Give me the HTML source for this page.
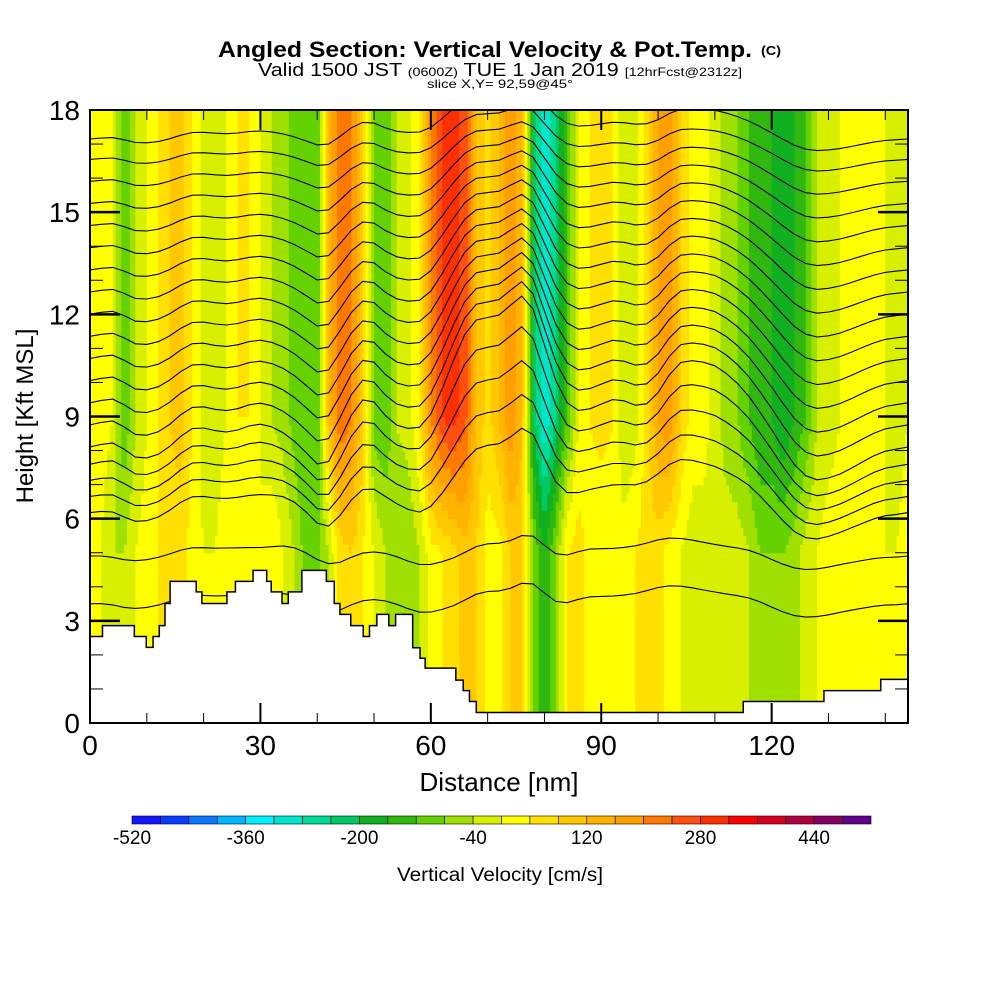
<!DOCTYPE html>
<html><head><meta charset="utf-8"><style>
html,body{margin:0;padding:0;background:#fff;}
svg{display:block;font-family:"Liberation Sans",sans-serif;}
</style></head><body>
<svg id="chart" width="1000" height="1000" viewBox="0 0 1000 1000" xmlns="http://www.w3.org/2000/svg">
<g>
<text x="218" y="57" font-size="22" font-weight="bold" textLength="534" lengthAdjust="spacingAndGlyphs">Angled Section: Vertical Velocity &amp; Pot.Temp.</text>
<text x="761" y="55" font-size="13" font-weight="bold" textLength="20" lengthAdjust="spacingAndGlyphs">(C)</text>
<text x="258" y="76" font-size="18" textLength="484" lengthAdjust="spacingAndGlyphs">Valid 1500 JST <tspan font-size="12">(0600Z)</tspan> TUE 1 Jan 2019 <tspan font-size="12">[12hrFcst@2312z]</tspan></text>
<text x="427" y="88" font-size="12" textLength="146" lengthAdjust="spacingAndGlyphs">slice X,Y= 92,59@45°</text>
</g>
<defs><clipPath id="plotclip"><rect x="90" y="110" width="818" height="613"/></clipPath></defs>
<g id="field" clip-path="url(#plotclip)"></g>
<g id="isen" clip-path="url(#plotclip)"></g>
<g id="terr" clip-path="url(#plotclip)"></g>
<g id="axes"></g>
<text x="499" y="791" font-size="26" text-anchor="middle">Distance [nm]</text>
<text transform="translate(33,416) rotate(-90)" font-size="24" text-anchor="middle">Height [Kft MSL]</text>
<g id="cbar"></g>
<text x="500" y="881" font-size="19" text-anchor="middle" textLength="206" lengthAdjust="spacingAndGlyphs">Vertical Velocity [cm/s]</text>
</svg>
<script>
// data: vertical velocity (cm/s), one value per 2 nm from 0 to 144 nm
const upperW = [20,20,0,-120,-40,0,40,80,100,40,-20,-20,0,40,40,0,-40,-60,-100,-120,-120,120,240,200,100,-100,-120,-40,-20,40,200,280,300,260,120,60,120,200,120,-200,-320,-240,-120,0,40,60,40,-40,-20,60,160,200,80,20,20,-20,-60,-80,-120,-160,-160,-200,-160,-120,-40,-20,0,20,20,20,0,-20,0];
const lowerW = [0,0,-40,-40,0,20,40,60,60,20,0,0,20,0,20,0,40,0,-40,-100,-100,-40,60,80,40,0,-40,-60,-80,-40,20,40,60,100,80,20,20,80,100,-80,-160,-80,40,60,20,0,20,20,40,60,60,20,0,-20,-20,-20,-20,-20,-40,-80,-80,-80,-60,-20,0,20,20,20,20,20,0,0,20];
// terrain steps: start distance (nm) and height (kft)
const terrNm = [0,2.2,7.8,9.9,11.1,12.2,13.2,14.1,18.7,19.7,24.1,25.6,28.7,31.1,31.9,33.8,34.9,37.3,41.6,43.0,44.0,45.9,48.1,49.2,50.5,52.6,53.8,56.8,58.1,59.0,64.4,65.7,66.8,68.0,115.0,129.2,139.2];
const terrKft = [2.54,2.86,2.54,2.22,2.54,2.86,3.51,4.16,3.85,3.51,3.85,4.16,4.48,4.16,3.85,3.51,3.85,4.48,4.16,3.51,3.19,2.86,2.54,2.86,3.19,2.86,3.19,2.21,1.9,1.61,1.26,0.95,0.63,0.31,0.63,0.95,1.28];
// isentrope base heights (kft)
const isenBase = [17.5,16.9,16.3,15.7,15.1,14.5,13.9,13.3,12.7,12.1,11.5,10.9,10.3,9.7,9.1,8.5,7.9,7.3,6.7,5.0,3.6];
const xTicks = [0,30,60,90,120];
const yTicks = [0,3,6,9,12,15,18];
const cbLabels = [-520,-360,-200,-40,120,280,440];
const cbColors = ["#1414ff","#0a3cff","#0a78ff","#00b4ff","#00f0ff","#00e6cc","#00dc96","#00c864","#10b020","#30b810","#64d200","#a0e000","#d8f000","#ffff00","#ffe000","#ffc800","#ffb400","#ffa000","#ff7800","#ff5010","#ff3000","#ff0000","#d80020","#b00040","#880060","#600090"];

const NS="http://www.w3.org/2000/svg";
const X0=90,X1=908,Y0=723,Y1=110,XMAX=144,YMAX=18;
const sx=v=>X0+(X1-X0)*v/XMAX, sy=v=>Y0-(Y0-Y1)*v/YMAX;
function mk(t,a,p){const e=document.createElementNS(NS,t);for(const k in a)e.setAttribute(k,a[k]);p.appendChild(e);return e;}
function color(v){let i=Math.floor((v+520)/40);i=Math.max(0,Math.min(25,i));return cbColors[i];}
function wAt(nm,h){const f=nm/2;const k=Math.max(0,Math.min(upperW.length-2,Math.floor(f)));const r=f-k;
 const up=upperW[k]*(1-r)+upperW[k+1]*r, lo=lowerW[k]*(1-r)+lowerW[k+1]*r;
 const t=Math.max(0,Math.min(1,(h-5)/4));return lo*(1-t)+up*t;}
// field
const field=document.getElementById('field');
const dNm=0.5,dH=0.25;
for(let h=0;h<YMAX;h+=dH){for(let n=0;n<XMAX;n+=dNm){
 const r=mk('rect',{x:sx(n),y:sy(h+dH),width:sx(n+dNm)-sx(n)+0.6,height:sy(h)-sy(h+dH)+0.6,fill:color(wAt(n+dNm/2,h+dH/2))},field);
 
 
}}
// isentropes: displacement from integrated velocity (with decay so it stays local)
const isen=document.getElementById('isen');
function disp(h){const c=0.0032;let cum=[0];for(let k=1;k<upperW.length;k++){cum.push(cum[k-1]*0.93+c*(wAt(2*k-1,h)));}
 const L=cum.length-1,last=cum[L];let d=cum.map((v,k)=>v-last*k/L);const m=d.reduce((a,b)=>a+b,0)/d.length;return d.map(v=>v-m);}
isenBase.forEach((b,i)=>{const d=disp(b);const amp=b>9?Math.max(0.35,1-(b-9)/12):(b>6?1:0.6);
 let pts=[];for(let k=0;k<d.length;k++){pts.push(sx(2*k).toFixed(1)+','+sy(b+amp*d[k]).toFixed(1));}
 const p=mk('polyline',{points:pts.join(' '),fill:'none',stroke:'#000','stroke-width':1.1},isen);
 
 
});
// terrain
const terr=document.getElementById('terr');
let tp=[sx(0)+','+sy(0)];
for(let i=0;i<terrNm.length;i++){const e=i<terrNm.length-1?terrNm[i+1]:XMAX;tp.push(sx(terrNm[i])+','+sy(terrKft[i]));tp.push(sx(e)+','+sy(terrKft[i]));}
tp.push(sx(XMAX)+','+sy(0));
const tpoly=mk('polygon',{points:tp.join(' '),fill:'#fff',stroke:'#000','stroke-width':1.5},terr);


// axes
const ax=document.getElementById('axes');
const fr=mk('rect',{x:X0,y:Y1,width:X1-X0,height:Y0-Y1,fill:'none',stroke:'#000','stroke-width':2},ax);


for(let h=1;h<YMAX;h++){const maj=h%3===0,L=maj?30:13;const y=sy(h);
 mk('line',{x1:X0,y1:y,x2:X0+L,y2:y,stroke:'#000','stroke-width':maj?2.5:1},ax);
 mk('line',{x1:X1,y1:y,x2:X1-L,y2:y,stroke:'#000','stroke-width':maj?2.5:1},ax);}
for(let n=10;n<XMAX;n+=10){const maj=n%30===0,L=maj?20:10;const x=sx(n);
 mk('line',{x1:x,y1:Y0,x2:x,y2:Y0-L,stroke:'#000','stroke-width':maj?2:1},ax);
 mk('line',{x1:x,y1:Y1,x2:x,y2:Y1+L,stroke:'#000','stroke-width':maj?2:1},ax);}
yTicks.forEach(v=>{const t=mk('text',{x:80,y:sy(v)+10,'font-size':28,'text-anchor':'end'},ax);t.textContent=v;
 
 });
xTicks.forEach(v=>{const t=mk('text',{x:sx(v),y:755,'font-size':28,'text-anchor':'middle'},ax);t.textContent=v;
 
 });
// colorbar
const cb=document.getElementById('cbar');const CB0=132,CB1=871,bw=(CB1-CB0)/cbColors.length;
cbColors.forEach((c,i)=>{const r=mk('rect',{x:CB0+i*bw,y:816,width:bw,height:8,fill:c,stroke:'#000','stroke-width':0.6},cb);
 
 });
cbLabels.forEach(v=>{const i=(v+520)/40;const t=mk('text',{x:CB0+i*bw,y:844,'font-size':19,'text-anchor':'middle'},cb);t.textContent=v;
 
 });
</script>
</body></html>
